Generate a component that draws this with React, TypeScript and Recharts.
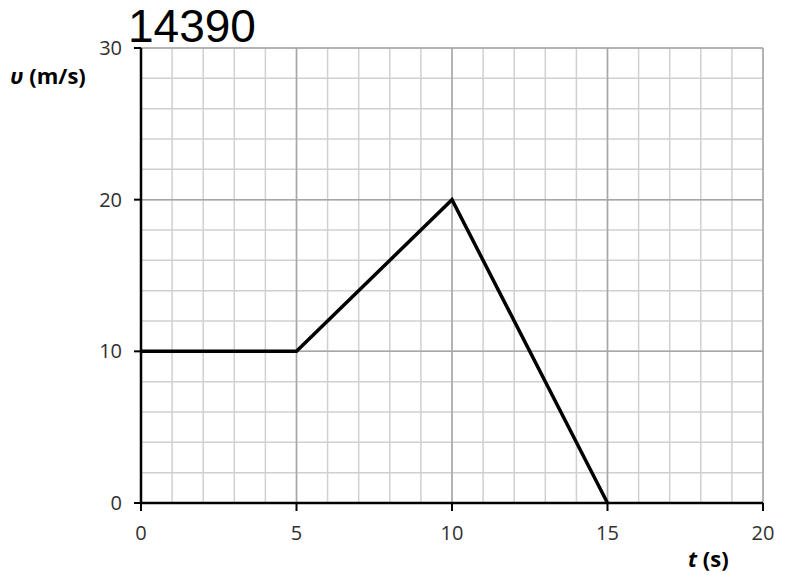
import { LineChart, Line, XAxis, YAxis, CartesianGrid, Label } from "recharts";

// velocity-time graph
const times = [0, 5, 10, 15];
const speeds = [10, 10, 20, 0];

const xTicks = [0, 5, 10, 15, 20];
const yTicks = [0, 10, 20, 30];
const xMinor = [0, 1, 2, 3, 4, 5, 6, 7, 8, 9, 10, 11, 12, 13, 14, 15, 16, 17, 18, 19, 20];
const yMinor = [0, 2, 4, 6, 8, 10, 12, 14, 16, 18, 20, 22, 24, 26, 28, 30];

const data = times.map((t, i) => ({ t, v: speeds[i] }));

const font = "'Open Sans', sans-serif";
const tickStyle = { fill: "#303030", fontSize: 20, fontFamily: font };

export default function App() {
  return (
    <div style={{ position: "relative", width: 787, height: 575 }}>
      <style>{"body{margin:0}"}</style>
      <LineChart
        width={787}
        height={575}
        data={data}
        margin={{ top: 48, right: 24, left: 0, bottom: 0 }}
      >
        <CartesianGrid
          verticalValues={xMinor}
          horizontalValues={yMinor}
          stroke="#d0d0d0"
          strokeWidth={1.5}
        />
        <CartesianGrid
          verticalValues={xTicks}
          horizontalValues={yTicks}
          stroke="#a6a6a6"
          strokeWidth={1.5}
        />
        <XAxis
          dataKey="t"
          type="number"
          domain={[0, 20]}
          ticks={xTicks}
          height={72}
          axisLine={{ stroke: "#000", strokeWidth: 2.5 }}
          tickLine={{ stroke: "#000", strokeWidth: 2 }}
          tickSize={8}
          tickMargin={15}
          tick={tickStyle}
        >
          <Label
            content={({ viewBox }: any) => (
              <text
                x={viewBox.x + viewBox.width - 75}
                y={viewBox.y + 64}
                fontFamily={font}
                fontSize={22}
                fontWeight="bold"
                fill="#000"
              >
                <tspan fontStyle="italic">t</tspan>
                <tspan> (s)</tspan>
              </text>
            )}
          />
        </XAxis>
        <YAxis
          type="number"
          domain={[0, 30]}
          ticks={yTicks}
          width={141}
          axisLine={{ stroke: "#000", strokeWidth: 2.5 }}
          tickLine={{ stroke: "#000", strokeWidth: 2 }}
          tickSize={7}
          tickMargin={12}
          tick={tickStyle}
        >
          <Label
            content={({ viewBox }: any) => (
              <text
                x={viewBox.x + 10}
                y={viewBox.y + 36}
                fontFamily={font}
                fontSize={22}
                fontWeight="bold"
                fill="#000"
              >
                <tspan fontStyle="italic">υ</tspan>
                <tspan> (m/s)</tspan>
              </text>
            )}
          />
        </YAxis>
        <Line
          dataKey="v"
          type="linear"
          stroke="#000"
          strokeWidth={3.5}
          dot={false}
          isAnimationActive={false}
        />
      </LineChart>
      <svg
        width={787}
        height={60}
        style={{ position: "absolute", left: 0, top: 0, pointerEvents: "none" }}
      >
        <text
          x={128}
          y={42}
          fontFamily="'Liberation Sans', Arial, sans-serif"
          fontSize={46}
          fill="#000"
        >
          14390
        </text>
      </svg>
    </div>
  );
}
